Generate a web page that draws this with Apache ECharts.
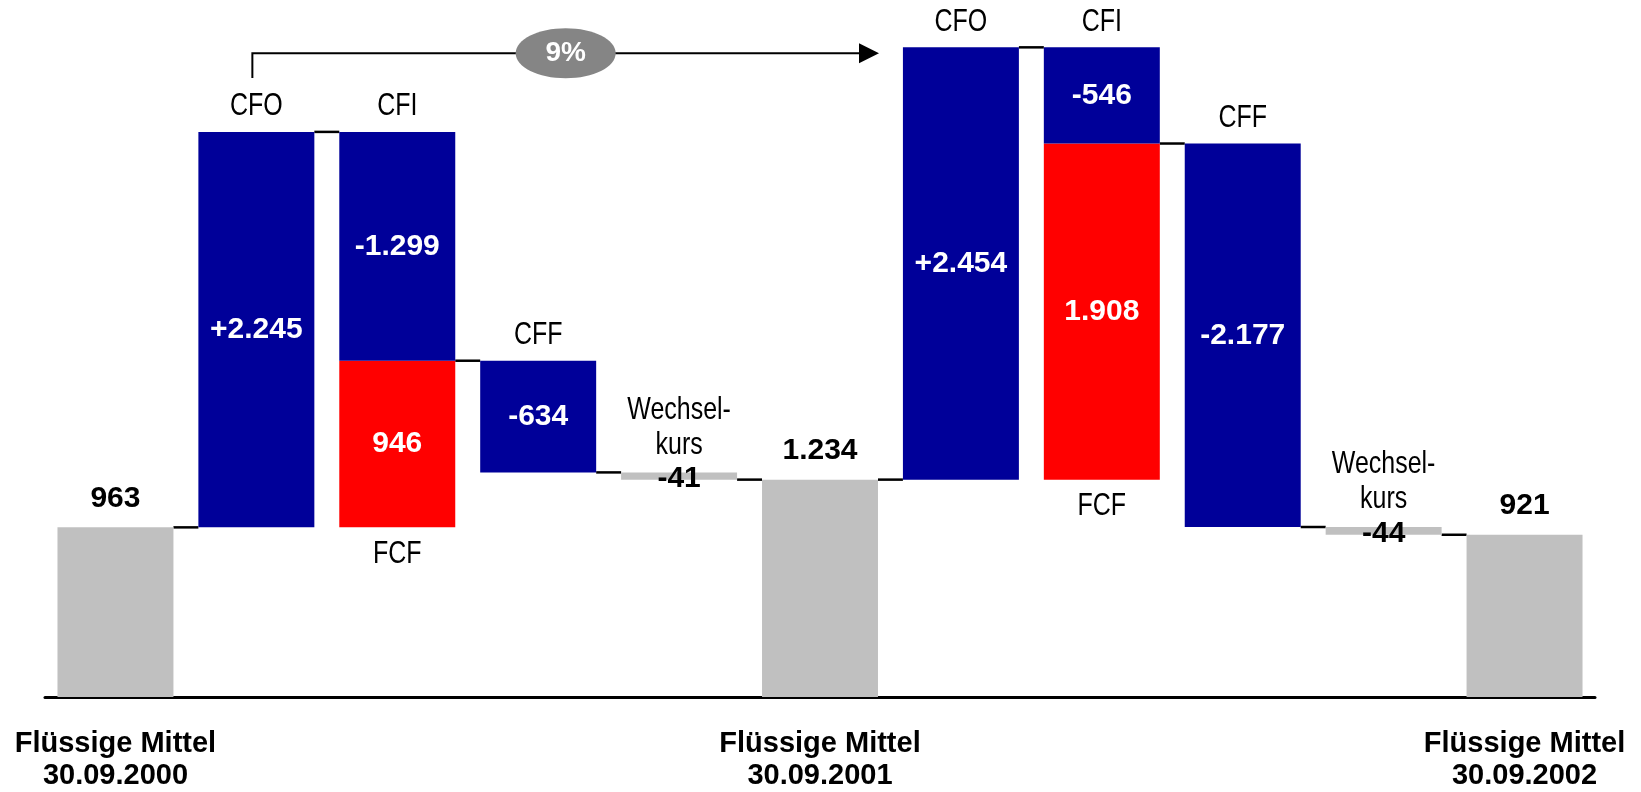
<!DOCTYPE html>
<html>
<head>
<meta charset="utf-8">
<script src="https://cdn.jsdelivr.net/npm/echarts@6/dist/echarts.min.js"></script>
<style>
html,body{margin:0;padding:0;background:#fff;}
#chart{width:1641px;height:792px;}
</style>
</head>
<body>
<div id="chart"></div>
<script>
// ---- data ----
const categories = ['Flüssige Mittel\n30.09.2000', 'CFO', 'CFI', 'CFF', 'Wechsel-\nkurs',
  'Flüssige Mittel\n30.09.2001', 'CFO', 'CFI', 'CFF', 'Wechsel-\nkurs', 'Flüssige Mittel\n30.09.2002'];
const kinds = ['total', 'flow', 'flow', 'flow', 'fx', 'total', 'flow', 'flow', 'flow', 'fx', 'total'];
const changes = [963, 2245, -1299, -634, -41, 1234, 2454, -546, -2177, -44, 921];
const fcfValues = [null, null, 946, null, null, null, null, 1908, null, null, null];
const fcfName = 'FCF';
const growthLabel = '9%';
const growthFrom = 1;   // CFO 2000/01
const growthTo = 6;     // CFO 2001/02

// ---- derived ----
const BLUE = '#000099', RED = '#FF0000', GRAY = '#C0C0C0';
const BAR_RATIO = 0.823;
function fmt(v, sign) {
  const a = Math.abs(v);
  const s = a.toString().replace(/\B(?=(\d{3})+(?!\d))/g, '.');
  if (v < 0) return '-' + s;
  return (sign ? '+' : '') + s;
}
const baseData = [], redData = [], mainData = [], annoData = [];
let run = 0;
changes.forEach((v, i) => {
  let start, end;
  if (kinds[i] === 'total') { start = 0; end = v; }
  else { start = run; end = run + v; }
  run = end;
  const top = Math.max(start, end), bottom = Math.min(start, end);
  const f = fcfValues[i];
  if (f != null) {
    baseData.push(end - f);
    redData.push({ value: f, label: { show: true, formatter: fmt(f, false) } });
  } else {
    baseData.push(bottom);
    redData.push(0);
  }
  const isTotal = kinds[i] === 'total';
  mainData.push({
    value: Math.abs(v),
    itemStyle: { color: kinds[i] === 'flow' ? BLUE : GRAY },
    label: isTotal
      ? { show: true, position: 'top', distance: 14, color: '#000', formatter: fmt(v, false) }
      : kinds[i] === 'fx'
        ? { show: true, position: 'inside', color: '#000', offset: [0, 3], formatter: fmt(v, false) }
        : { show: true, position: 'inside', color: '#fff', formatter: fmt(v, true) }
  });
  annoData.push([i, end, top, bottom, f != null ? end - f : bottom]);
});

const chart = echarts.init(document.getElementById('chart'), null, { renderer: 'canvas' });
const FONT = 'Liberation Sans';
const NARROW_SCALE = 0.78;

const option = {
  animation: false,
  backgroundColor: '#fff',
  grid: { left: 45, right: 46, top: 10, bottom: 94 },
  xAxis: {
    type: 'category',
    data: categories,
    axisLine: { show: true, lineStyle: { color: '#000', width: 3 } },
    axisTick: { show: false },
    axisLabel: {
      interval: (idx) => kinds[idx] === 'total',
      margin: 31,
      color: '#000',
      fontFamily: FONT,
      fontWeight: 'bold',
      fontSize: 29,
      lineHeight: 32
    },
    splitLine: { show: false }
  },
  yAxis: { type: 'value', min: 0, max: 3900, show: false, splitLine: { show: false } },
  series: [
    {
      type: 'bar', stack: 'w', barWidth: (BAR_RATIO * 100) + '%', silent: true,
      itemStyle: { color: 'rgba(0,0,0,0)' }, data: baseData
    },
    {
      type: 'bar', stack: 'w', barWidth: (BAR_RATIO * 100) + '%',
      itemStyle: { color: RED },
      label: { show: false, position: 'inside', color: '#fff', fontFamily: FONT, fontWeight: 'bold', fontSize: 30 },
      data: redData
    },
    {
      type: 'bar', stack: 'w', barWidth: (BAR_RATIO * 100) + '%',
      label: { fontFamily: FONT, fontWeight: 'bold', fontSize: 30, lineHeight: 30 },
      data: mainData
    },
    {
      type: 'custom',
      clip: false,
      silent: true,
      data: annoData,
      renderItem: function (params, api) {
        const i = api.value(0);
        const band = api.size([1, 0])[0];
        const bw = band * BAR_RATIO;
        const children = [];
        const endPt = api.coord([i, api.value(1)]);
        const topPt = api.coord([i, api.value(2)]);
        if (i < categories.length - 1) {
          children.push({
            type: 'line',
            shape: { x1: endPt[0] + bw / 2, y1: endPt[1], x2: endPt[0] + band - bw / 2, y2: endPt[1] },
            style: { stroke: '#000', lineWidth: 2.5 }
          });
        }
        if (kinds[i] !== 'total') {
          const twoLines = categories[i].indexOf('\n') >= 0;
          children.push({
            type: 'text',
            x: topPt[0], y: topPt[1] - (twoLines ? 10 : 8), scaleX: NARROW_SCALE,
            style: {
              text: categories[i],
              align: 'center', verticalAlign: 'bottom',
              fontFamily: FONT, fontSize: 32, lineHeight: 35, fill: '#000'
            }
          });
        }
        if (fcfValues[i] != null) {
          const rb = api.coord([i, api.value(4)]);
          children.push({
            type: 'text',
            x: rb[0], y: rb[1] + 27, scaleX: NARROW_SCALE,
            style: {
              text: fcfName,
              align: 'center', verticalAlign: 'middle',
              fontFamily: FONT, fontSize: 32, fill: '#000'
            }
          });
        }
        if (i === growthFrom) {
          const toTop = api.coord([growthTo, annoData[growthTo][2]]);
          const prevTotal = api.coord([growthTo - 1, 0]);
          const yLine = toTop[1] + 6;
          const yStart = topPt[1] - 54;
          const xTip = prevTotal[0] + bw / 2 + 1;
          const xs = topPt[0] - 4;
          const xm = (xs + xTip) / 2;
          children.push({
            type: 'polyline',
            shape: { points: [[xs, yStart], [xs, yLine], [xTip - 18, yLine]] },
            style: { stroke: '#000', lineWidth: 2, fill: null }
          });
          children.push({
            type: 'polygon',
            shape: { points: [[xTip, yLine], [xTip - 20, yLine - 10], [xTip - 20, yLine + 10]] },
            style: { fill: '#000' }
          });
          children.push({
            type: 'ellipse',
            shape: { cx: xm, cy: yLine, rx: 50, ry: 25 },
            style: { fill: '#858585' }
          });
          children.push({
            type: 'text',
            x: xm, y: yLine,
            style: {
              text: growthLabel,
              align: 'center', verticalAlign: 'middle',
              fontFamily: FONT, fontWeight: 'bold', fontSize: 28, fill: '#fff'
            }
          });
        }
        return { type: 'group', children: children };
      }
    }
  ]
};
chart.setOption(option);
</script>
</body>
</html>
